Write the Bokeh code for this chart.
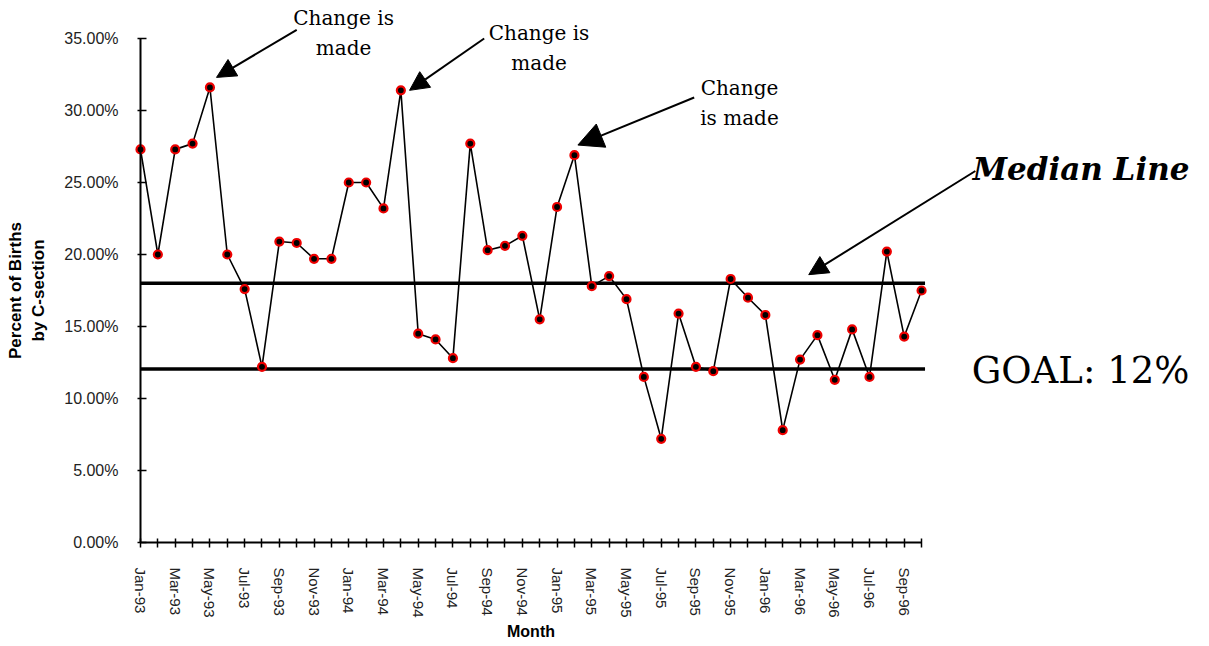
from bokeh.plotting import figure
from bokeh.models import (Range1d, FixedTicker, PrintfTickFormatter, Label,
                          Arrow, NormalHead)
from bokeh.embed import file_html
from bokeh.resources import INLINE

# ---- data -------------------------------------------------------------
months = ["Jan-93", "Feb-93", "Mar-93", "Apr-93", "May-93", "Jun-93",
          "Jul-93", "Aug-93", "Sep-93", "Oct-93", "Nov-93", "Dec-93",
          "Jan-94", "Feb-94", "Mar-94", "Apr-94", "May-94", "Jun-94",
          "Jul-94", "Aug-94", "Sep-94", "Oct-94", "Nov-94", "Dec-94",
          "Jan-95", "Feb-95", "Mar-95", "Apr-95", "May-95", "Jun-95",
          "Jul-95", "Aug-95", "Sep-95", "Oct-95", "Nov-95", "Dec-95",
          "Jan-96", "Feb-96", "Mar-96", "Apr-96", "May-96", "Jun-96",
          "Jul-96", "Aug-96", "Sep-96", "Oct-96"]
csection_pct = [27.3, 20.0, 27.3, 27.7, 31.6, 20.0, 17.6, 12.2, 20.9, 20.8,
                19.7, 19.7, 25.0, 25.0, 23.2, 31.4, 14.5, 14.1, 12.8, 27.7,
                20.3, 20.6, 21.3, 15.5, 23.3, 26.9, 17.8, 18.5, 16.9, 11.5,
                7.2, 15.9, 12.2, 11.9, 18.3, 17.0, 15.8, 7.8, 12.7, 14.4,
                11.3, 14.8, 11.5, 20.2, 14.3, 17.5]
median_pct = 18.0
goal_pct = 12.05
y_ticks = [0, 5, 10, 15, 20, 25, 30, 35]

# ---- figure -----------------------------------------------------------
W, H = 1209, 646
n = len(months)
x = list(range(n))
# pixel geometry of the chart area inside the canvas
X0_PX, DX_PX = 140.0, 17.357     # x of first month, px per month
Y0_PX, DY_PX = 542.0, 14.4       # y of 0 %, px per percent

p = figure(width=W, height=H, output_backend="svg", toolbar_location=None,
           x_range=Range1d(-X0_PX / DX_PX, (W - X0_PX) / DX_PX),
           y_range=Range1d(-(H - Y0_PX) / DY_PX, Y0_PX / DY_PX),
           min_border=0)
p.outline_line_color = None
p.xgrid.visible = False
p.ygrid.visible = False
p.background_fill_color = "white"
p.border_fill_color = "white"

TICK_FONT = "Liberation Sans"
TICK_COLOR = "#222222"

# y axis
ya = p.yaxis[0]
ya.fixed_location = 0
ya.bounds = (y_ticks[0], y_ticks[-1])
ya.ticker = FixedTicker(ticks=y_ticks)
ya.formatter = PrintfTickFormatter(format="%.2f%%")
ya.major_label_text_font = TICK_FONT
ya.major_label_text_font_size = "16px"
ya.major_label_text_color = TICK_COLOR
ya.major_tick_in = 6
ya.major_tick_out = 3
ya.minor_tick_line_color = None
ya.axis_line_width = 2
ya.major_tick_line_width = 1.5
ya.major_label_standoff = 19
ya.axis_label = "Percent of Births\nby C-section"
ya.axis_label_text_font = TICK_FONT
ya.axis_label_text_font_style = "bold"
ya.axis_label_text_font_size = "17px"
ya.axis_label_text_color = "black"
ya.axis_label_standoff = 13

# x axis
xa = p.xaxis[0]
xa.fixed_location = 0
xa.bounds = (0, n - 1)
xa.ticker = FixedTicker(ticks=x)
xa.major_label_overrides = {i: (months[i] if i % 2 == 0 else "") for i in x}
xa.major_label_orientation = "vertical"
xa.major_label_text_font = TICK_FONT
xa.major_label_text_font_size = "15px"
xa.major_label_text_color = TICK_COLOR
xa.major_tick_in = 4
xa.major_tick_out = 5
xa.minor_tick_line_color = None
xa.axis_line_width = 2
xa.major_tick_line_width = 1.5
xa.major_label_standoff = 20
xa.axis_label = "Month"
xa.axis_label_text_font = TICK_FONT
xa.axis_label_text_font_style = "bold"
xa.axis_label_text_font_size = "16px"
xa.axis_label_text_color = "black"
xa.axis_label_standoff = 2

# reference lines
x_line = [0, n - 1 + 0.2]
p.line(x_line, [median_pct] * 2, line_color="black", line_width=3.5)
p.line(x_line, [goal_pct] * 2, line_color="black", line_width=3.5)

# data series
p.line(x, csection_pct, line_color="black", line_width=1.6)
p.scatter(x, csection_pct, size=8, fill_color="black", line_color="#ee0000",
          line_width=2.2)

# ---- annotations ------------------------------------------------------
SERIF = "DejaVu Serif"

def note(xv, yv, text, size, style="normal"):
    p.add_layout(Label(x=xv, y=yv, text=text, text_align="center",
                       text_baseline="middle", text_font=SERIF,
                       text_font_size=size, text_font_style=style,
                       text_color="black", text_line_height=1.25))

def arrow(x0, y0, x1, y1, size):
    p.add_layout(Arrow(x_start=x0, y_start=y0, x_end=x1, y_end=y1,
                       line_color="black", line_width=2,
                       end=NormalHead(size=size, fill_color="black",
                                      line_color="black", line_width=1)))

note(11.70, 35.35, "Change is\nmade", "20px")
note(22.96, 34.34, "Change is\nmade", "20px")
note(34.51, 30.49, "Change\nis made", "20px")
note(54.19, 25.94, "Median Line", "31px", "bold italic")
note(54.16, 11.94, "GOAL: 12%", "37px")

arrow(9.0, 35.6, 4.38, 32.3, 19)
arrow(19.8, 35.0, 15.5, 31.4, 19)
arrow(31.9, 30.9, 25.2, 27.6, 25)
arrow(48.1, 25.8, 38.5, 18.6, 19)

open("out.html", "w").write(file_html(p, INLINE))
